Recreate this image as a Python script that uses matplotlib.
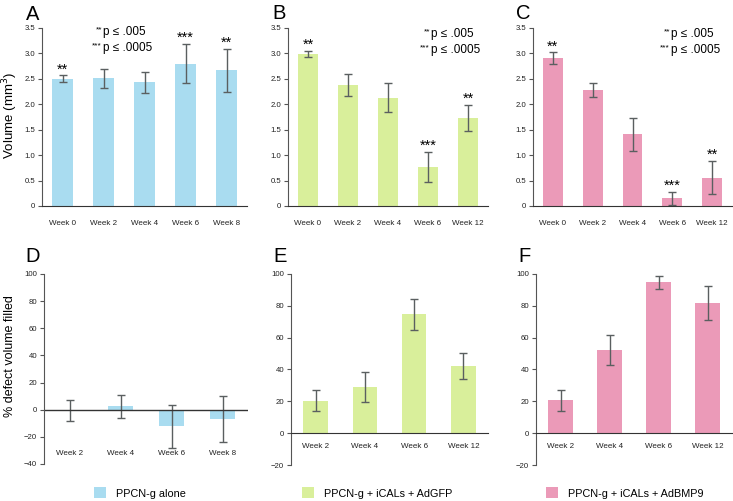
import matplotlib
matplotlib.use("Agg")
import matplotlib.pyplot as plt
from matplotlib.patches import Patch
import numpy as np

plt.rcParams['font.family'] = ['Liberation Sans', 'DejaVu Sans']

# volume data (mm^3)
weeks_a = ["Week 0", "Week 2", "Week 4", "Week 6", "Week 8"]
vol_a = [2.50, 2.51, 2.43, 2.80, 2.67]
err_a = [0.07, 0.19, 0.21, 0.39, 0.42]
stars_a = ["**", "", "", "***", "**"]

weeks_b = ["Week 0", "Week 2", "Week 4", "Week 6", "Week 12"]
vol_b = [2.99, 2.38, 2.13, 0.77, 1.73]
err_b = [0.06, 0.22, 0.29, 0.29, 0.26]
stars_b = ["**", "", "", "***", "**"]

vol_c = [2.91, 2.28, 1.41, 0.15, 0.56]
err_c = [0.11, 0.14, 0.33, 0.13, 0.33]
stars_c = ["**", "", "", "***", "**"]

# % defect volume filled
weeks_d = ["Week 2", "Week 4", "Week 6", "Week 8"]
fill_d = [-0.8, 2.6, -12.3, -7.1]
ferr_d = [7.8, 8.4, 15.7, 17.0]

weeks_e = ["Week 2", "Week 4", "Week 6", "Week 12"]
fill_e = [20.4, 29.0, 74.8, 42.4]
ferr_e = [6.5, 9.2, 9.7, 8.2]

fill_f = [20.7, 52.1, 94.8, 81.6]
ferr_f = [6.7, 9.4, 4.2, 10.6]

groups = ["PPCN-g alone", "PPCN-g + iCALs + AdGFP", "PPCN-g + iCALs + AdBMP9"]
colors = ["#a9dcf0", "#d9ef9b", "#eb9ab8"]

ecol = "#5a5f60"
W, H = 733, 501
fig = plt.figure(figsize=(W / 100, H / 100), dpi=100)


def px_axes(l, r, t, b):
    return fig.add_axes([l / W, 1 - b / H, (r - l) / W, (b - t) / H])


def style(ax):
    for s in ["top", "right"]:
        ax.spines[s].set_visible(False)
    ax.spines["left"].set_color("#555555")
    ax.spines["bottom"].set_color("#333333")
    ax.tick_params(axis="y", labelsize=5.6, length=3, color="#555555", pad=2, labelcolor="#222222")
    ax.tick_params(axis="x", labelsize=5.8, length=0, labelcolor="#222222")


def vol_panel(ax, labels, vals, errs, stars, color, key_x, key_y):
    x = np.arange(len(labels))
    ax.bar(x, vals, width=0.5, color=color)
    ax.errorbar(x, vals, yerr=errs, fmt="none", ecolor=ecol, elinewidth=1, capsize=3, capthick=1)
    for xi, v, e, s in zip(x, vals, errs, stars):
        if s:
            ax.text(xi, v + e - 0.02, s, ha="center", va="bottom", fontsize=10.5)
    ax.set_xlim(-0.5, len(labels) - 0.5)
    ax.set_ylim(0, 3.5)
    ax.set_yticks(np.arange(0, 3.51, 0.5))
    ax.set_yticklabels(["0"] + ["%.1f" % v for v in np.arange(0.5, 3.51, 0.5)])
    ax.set_xticks(x)
    ax.set_xticklabels(labels)
    ax.tick_params(axis="x", pad=10)
    style(ax)
    # significance key
    for yy, st, p in zip(key_y, ["**", "***"], ["p \u2264 .005", "p \u2264 .0005"]):
        ax.text(key_x - 0.005, yy + 0.012, st, transform=ax.transAxes, ha="right", va="center", fontsize=6)
        ax.text(key_x, yy, p, transform=ax.transAxes, ha="left", va="center", fontsize=8.5)


def fill_panel(ax, labels, vals, errs, color, ymin, low_labels):
    x = np.arange(len(labels))
    ax.bar(x, vals, width=0.5, color=color)
    ax.errorbar(x, vals, yerr=errs, fmt="none", ecolor=ecol, elinewidth=1, capsize=3, capthick=1)
    ax.set_xlim(-0.5, len(labels) - 0.5)
    ax.set_ylim(ymin, 100)
    ax.set_yticks(np.arange(ymin, 101, 20))
    ax.set_xticks(x)
    ax.set_xticklabels(labels)
    style(ax)
    if low_labels:
        ax.spines["bottom"].set_visible(False)
        ax.axhline(0, color="#333333", lw=1)
        ax.tick_params(axis="x", pad=-10)
    else:
        ax.spines["bottom"].set_position(("data", 0))
        ax.tick_params(axis="x", pad=7)


axA = px_axes(42, 247, 28, 206)
axB = px_axes(288, 488, 28, 206)
axC = px_axes(533, 732, 28, 206)
axD = px_axes(44, 248, 274, 464)
axE = px_axes(291, 488, 274, 465)
axF = px_axes(536, 732, 274, 465)

vol_panel(axA, weeks_a, vol_a, err_a, stars_a, colors[0], 0.298, [0.975, 0.89])
vol_panel(axB, weeks_b, vol_b, err_b, stars_b, colors[1], 0.715, [0.965, 0.876])
vol_panel(axC, weeks_b, vol_c, err_c, stars_c, colors[2], 0.693, [0.965, 0.876])
axA.set_ylabel("Volume (mm$^3$)", fontsize=9.5)
axA.yaxis.set_label_coords(-0.105, 0.51)

fill_panel(axD, weeks_d, fill_d, ferr_d, colors[0], -40, True)
fill_panel(axE, weeks_e, fill_e, ferr_e, colors[1], -20, False)
fill_panel(axF, weeks_e, fill_f, ferr_f, colors[2], -20, False)
axD.set_ylabel("% defect volume filled", fontsize=9)
axD.yaxis.set_label_coords(-0.135, 0.57)

# panel letters (x, baseline in pixels)
for letter, lx, ly in [("A", 26, 20), ("B", 272, 19), ("C", 516, 19),
                       ("D", 25, 262), ("E", 273, 262), ("F", 518, 262)]:
    fig.text(lx / W, 1 - ly / H, letter, fontsize=14.5, ha="left", va="baseline")

# legend, one entry per column position
for lab, c, lx in zip(groups, colors, [94, 302, 546]):
    fig.legend([Patch(facecolor=c, edgecolor="none")], [lab], loc="center left",
               bbox_to_anchor=(lx / W, 1 - 493 / H), frameon=False, fontsize=7.8,
               handlelength=1.15, handleheight=1.15, handletextpad=0.85,
               borderpad=0, borderaxespad=0)

fig.savefig("out.png", dpi=100)
